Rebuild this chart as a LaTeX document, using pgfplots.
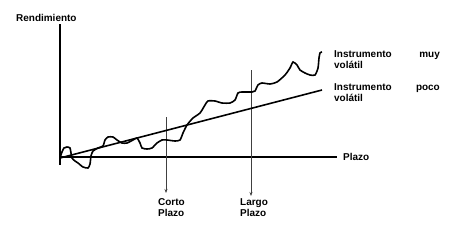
\documentclass[border=0pt]{standalone}
\usepackage{pgfplots}
\pgfplotsset{compat=1.18}
\usepackage{fontspec}
\setmainfont{Liberation Sans}
\usetikzlibrary{arrows.meta}
\begin{document}
\begin{tikzpicture}
\begin{axis}[
  width=466bp, height=242bp, scale only axis,
  xmin=0, xmax=466, ymin=0, ymax=242, y dir=reverse,
  hide axis, clip=false,
]
\addplot[draw=none, forget plot] coordinates {(0,0) (466,242)};
% axes
\addplot[black, line width=1.7pt] coordinates {(60,24) (60,165)};
\addplot[black, line width=2pt] coordinates {(60,157) (337,157)};
% term markers
\addplot[black!75, line width=0.6pt, -{Stealth[length=4pt,width=3pt]}] coordinates {(166,117) (166,193)};
\addplot[black!75, line width=0.6pt, -{Stealth[length=4pt,width=3pt]}] coordinates {(251,70) (251,196)};
% low volatility
\addplot[black, line width=1.6pt] coordinates {(60,158) (322,90)};
% high volatility
\addplot[black, line width=1.6pt, smooth, tension=0.4] coordinates {
(60,158) (62,152) (64,148) (67,147) (70,148) (71,153) (72,158) (75,161) (78,163) (83,167) (88,168) (90,164) (91,156) (93,151) (98,148) (103,146) (105,140) (108,137) (113,137) (117,140) (122,143) (127,143) (133,140) (137,138) (140,143) (142,148) (147,149) (152,148) (157,143) (162,140) (167,140) (175,141) (180,140) (183,133) (187,125) (193,118) (200,113) (205,105) (208,101) (215,101) (222,103) (230,103) (235,100) (238,93) (242,92) (252,92) (255,91) (258,85) (262,83) (270,84) (277,82) (285,75) (290,68) (293,62) (297,65) (300,70) (305,73) (310,75) (315,75) (318,68) (319,58) (320,53) (322,52)};
% labels
\tikzset{lab/.style={font=\fontsize{10}{12}\selectfont\bfseries, inner sep=0pt}}
\node[lab, anchor=base west] at (axis cs:16,21.7) {Rendimiento};
\node[lab, anchor=base west] at (axis cs:343,160.5) {Plazo};
\node[lab, anchor=base west] at (axis cs:334,57) {Instrumento};
\node[lab, anchor=base east] at (axis cs:440,57) {muy};
\node[lab, anchor=base west] at (axis cs:334,68) {volátil};
\node[lab, anchor=base west] at (axis cs:334,90.7) {Instrumento};
\node[lab, anchor=base east] at (axis cs:440,90.7) {poco};
\node[lab, anchor=base west] at (axis cs:334,101.7) {volátil};
\node[lab, anchor=base west] at (axis cs:158,205.7) {Corto};
\node[lab, anchor=base west] at (axis cs:158,216.5) {Plazo};
\node[lab, anchor=base west] at (axis cs:240,205.7) {Largo};
\node[lab, anchor=base west] at (axis cs:240,216.5) {Plazo};
\end{axis}
\end{tikzpicture}
\end{document}
